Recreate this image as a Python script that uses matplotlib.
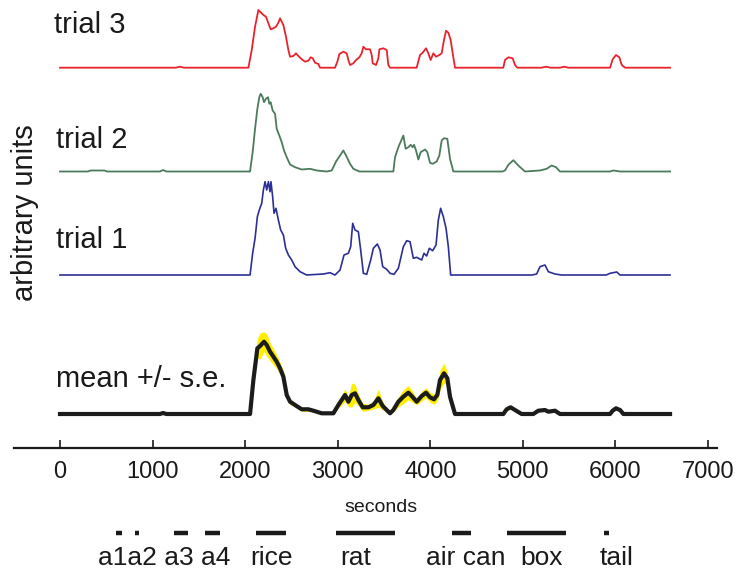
import matplotlib
matplotlib.use('Agg')
import matplotlib.pyplot as plt
from matplotlib.transforms import blended_transform_factory
from matplotlib import font_manager
import numpy as np

plt.rcParams['font.family'] = ['Liberation Sans', 'DejaVu Sans']

# ---------------- data (seconds, arbitrary units) ----------------
xticks = [0, 1000, 2000, 3000, 4000, 5000, 6000, 7000]
xtick_labels = ['0', '1000', '2000', '3000', '4000', '5000', '6000', '7000']

trial3 = [(0, 0), (1250, 0), (1296, 1), (1340, 0), (2035, 0), (2071, 17.7), (2107, 41), (2143, 57.7),
          (2161, 56), (2197, 52.7), (2225, 51), (2251, 44.4), (2276, 38.4), (2305, 39.4), (2333, 41),
          (2359, 45), (2377, 49.4), (2395, 46), (2413, 42.7), (2441, 31), (2467, 17.7), (2485, 11),
          (2521, 11.7), (2549, 14.4), (2575, 11.7), (2611, 8.4), (2647, 6), (2683, 7), (2708, 10.4),
          (2730, 9.4), (2755, 5), (2791, 3.7), (2809, 0), (2971, 0), (2996, 6), (3018, 13.7), (3061, 16),
          (3097, 14.4), (3115, 7.7), (3133, 2.7), (3169, 4.4), (3198, 7.7), (3234, 10.4), (3259, 14.4),
          (3277, 21), (3306, 18.4), (3349, 18.4), (3367, 12.7), (3378, 4.4), (3414, 2.7), (3439, 9.4),
          (3450, 18.4), (3493, 19.4), (3529, 17.7), (3547, 2.7), (3565, 0), (3853, 0), (3889, 12.7),
          (3918, 15), (3954, 19.4), (3979, 14.4), (4004, 7.7), (4033, 14.4), (4062, 11), (4098, 12.7),
          (4123, 14.4), (4148, 27.7), (4170, 37), (4195, 35), (4220, 27.7), (4242, 14.4), (4267, 0),
          (4789, 0), (4807, 7.7), (4843, 10.4), (4890, 9.4), (4915, 2.7), (4940, 0), (5200, 0),
          (5250, 1), (5300, 0), (5400, 0), (5450, 1), (5490, 0), (5942, 0), (5970, 8.4), (6006, 12.7),
          (6042, 10.4), (6068, 2.7), (6104, 0), (6590, 0)]

trial2 = [(0, 0), (300, 0), (330, 1), (480, 1), (510, 0), (1080, 0), (1113, 1.5), (1150, 0), (2053, 0),
          (2081, 19.3), (2107, 42.7), (2132, 62.7), (2153, 74.3), (2168, 77.7), (2189, 74.3), (2204, 69.3),
          (2225, 72.7), (2247, 74.3), (2261, 67.7), (2276, 69.3), (2297, 61), (2323, 57.7), (2341, 42.7),
          (2369, 36), (2395, 29.3), (2420, 21), (2449, 14.3), (2485, 7), (2539, 4.3), (2611, 2),
          (2701, 2.7), (2773, 1), (2881, 0), (2935, 1), (2982, 10), (3025, 16), (3061, 21), (3090, 16),
          (3133, 7.7), (3169, 2.7), (3234, 0), (3601, 0), (3619, 14.3), (3655, 24.3), (3709, 36),
          (3734, 22.7), (3763, 24.3), (3788, 26.7), (3810, 24.3), (3824, 26.7), (3846, 21), (3871, 12),
          (3896, 19.3), (3943, 22), (3968, 19.3), (3997, 8.7), (4026, 7.7), (4069, 10), (4098, 16),
          (4123, 31), (4148, 33.3), (4184, 32.7), (4213, 12.7), (4249, 0), (4780, 0), (4807, 1),
          (4843, 6.7), (4897, 11.3), (4951, 6), (5023, 0), (5185, 1), (5257, 2.7), (5311, 6),
          (5358, 4.3), (5401, 0), (5940, 0), (5978, 1), (6050, 0), (6590, 0)]

trial1 = [(0, 0), (2053, 0), (2081, 21.7), (2107, 36.7), (2132, 58.3), (2153, 65), (2179, 71.7),
          (2197, 85), (2215, 93.3), (2233, 85), (2251, 93.3), (2269, 83.3), (2279, 93.3), (2297, 78.3),
          (2312, 61.7), (2333, 66.7), (2359, 55), (2384, 45), (2413, 40), (2438, 26.7), (2467, 20),
          (2503, 15), (2539, 8.3), (2593, 3.3), (2665, 0), (2845, 1), (2917, 2.3), (2971, 0), (3025, 5),
          (3068, 20), (3115, 21.7), (3140, 28.3), (3162, 51.7), (3187, 45), (3223, 43.3), (3248, 25),
          (3277, 1.7), (3313, 0.7), (3356, 15), (3385, 26.7), (3428, 31), (3457, 25), (3486, 8.3),
          (3529, 5.7), (3565, 1.7), (3608, 0.7), (3655, 6.7), (3709, 28.3), (3745, 34.3), (3781, 33.3),
          (3817, 16.7), (3853, 17.7), (3907, 15), (3932, 21.7), (3961, 19), (3990, 26.7), (4026, 24.3),
          (4062, 30), (4087, 55), (4112, 66.7), (4141, 58.3), (4170, 46.7), (4195, 28.3), (4220, 0),
          (5100, 0), (5149, 1), (5185, 8.3), (5239, 10), (5275, 3.3), (5347, 1), (5419, 0), (5900, 0),
          (5942, 1.7), (6014, 3), (6050, 0), (6590, 0)]

# (time, mean, standard error)
mean_se = [(0, 0, 0.5), (1080, 0, 0.5), (1113, 1, 0.5), (1150, 0, 0.5), (2053, 0, 0.5), (2089, 34, 7),
           (2132, 65.7, 10), (2161, 68, 13), (2204, 72.3, 10), (2233, 69, 11), (2269, 62.3, 9),
           (2305, 57.3, 8), (2341, 52.3, 7), (2377, 45.7, 6), (2413, 37.3, 6), (2449, 19, 4),
           (2485, 12.3, 3), (2539, 9, 2), (2611, 4.7, 2), (2683, 4.7, 2), (2737, 3.3, 1.5),
           (2827, 0.7, 1), (2953, 0.7, 1), (3007, 9, 3), (3043, 14, 5), (3079, 19, 6), (3115, 12.3, 5),
           (3151, 19, 12), (3187, 20.7, 9), (3223, 14, 6), (3270, 6.7, 4), (3331, 6.7, 3), (3385, 9, 4),
           (3439, 15.7, 9), (3486, 8, 4), (3529, 4, 2), (3565, 0.7, 1), (3601, 4, 2), (3655, 12.3, 5),
           (3709, 17.3, 7), (3763, 21.3, 7), (3799, 18, 6), (3853, 12.3, 3), (3907, 18, 5),
           (3954, 21.3, 5), (3997, 16.7, 5), (4040, 14.7, 5), (4076, 19, 6), (4105, 34, 10),
           (4148, 40.7, 10), (4184, 35.7, 6), (4213, 17.3, 4), (4267, 0, 0.5), (4789, 0, 0.5),
           (4825, 4.7, 1.5), (4868, 6.7, 1.5), (4915, 4, 1.5), (4987, 0, 0.5), (5113, 0, 0.5),
           (5167, 3.3, 1), (5239, 4, 1), (5275, 2.3, 1), (5347, 3.3, 1), (5401, 0, 0.5), (5942, 0, 0.5),
           (5970, 3.3, 1.5), (6006, 5.7, 1.5), (6050, 4, 1.5), (6086, 0, 0.5), (6590, 0, 0.5)]

# stimulus events (start s, end s)
events = [(610, 665), (810, 857), (1235, 1386), (1566, 1728), (2117, 2441),
          (2981, 3619), (4231, 4436), (4825, 5463), (5880, 5934)]
event_labels = ['rice', 'rat', 'air can', 'box', 'tail']

# ---------------- figure ----------------
W, H = 736, 576
fig = plt.figure(figsize=(W / 100, H / 100), dpi=100)
ax = fig.add_axes([14 / W, 1 - 448 / H, (716.7 - 14) / W, 448 / H])
ax.set_xlim(-497, 7094)
ax.set_ylim(0, 448)
for s in ['top', 'right', 'left']:
    ax.spines[s].set_visible(False)
ax.spines['bottom'].set_linewidth(1.6)
ax.spines['bottom'].set_color('#1a1a1a')
ax.set_yticks([])
ax.set_xticks(xticks)
ax.set_xticklabels(xtick_labels)

available = {f.name for f in font_manager.fontManager.ttflist}
narrow = None
for cand in ['Liberation Sans Narrow', 'DejaVu Sans Condensed']:
    if cand in available:
        narrow = cand
        break
if narrow is not None:
    tick_family, tick_size = [narrow, 'Liberation Sans'], 20
else:
    tick_family, tick_size = ['Liberation Sans'], 17

ax.tick_params(axis='x', direction='in', length=6, width=1.2, pad=9, labelsize=tick_size,
               colors='#1a1a1a')
for lab in ax.get_xticklabels():
    lab.set_fontfamily(tick_family)

base3, base2, base1, base_m = 380.3, 276.5, 173.0, 34.0

t3 = np.array([p[0] for p in trial3]); v3 = np.array([p[1] for p in trial3])
t2 = np.array([p[0] for p in trial2]); v2 = np.array([p[1] for p in trial2])
t1 = np.array([p[0] for p in trial1]); v1 = np.array([p[1] for p in trial1])
tm = np.array([p[0] for p in mean_se]); vm = np.array([p[1] for p in mean_se])
sm = np.array([p[2] for p in mean_se])

ax.plot(t3, v3 + base3, color='#e8232b', lw=1.3)
ax.plot(t2, v2 + base2, color='#4b7b5c', lw=1.3)
ax.plot(t1, v1 + base1, color='#2c2f98', lw=1.2)
ax.fill_between(tm, vm - sm + base_m, vm + sm + base_m, color='#ffee00', lw=0)
ax.plot(tm, vm + base_m, color='#1c1c1c', lw=3.0, solid_joinstyle='round')

tc = '#1a1a1a'
fig.text(54 / W, 1 - 33 / H, 'trial 3', fontsize=21, color=tc, va='baseline', ha='left')
fig.text(56 / W, 1 - 148 / H, 'trial 2', fontsize=21, color=tc, va='baseline', ha='left')
fig.text(56 / W, 1 - 247.7 / H, 'trial 1', fontsize=21, color=tc, va='baseline', ha='left')
fig.text(56 / W, 1 - 387 / H, 'mean +/- s.e.', fontsize=21, color=tc, va='baseline', ha='left')
fig.text(25 / W, 1 - 213 / H, 'arbitrary units', fontsize=21, color=tc, rotation=90,
         ha='center', va='center')
fig.text(381 / W, 1 - 507 / H, 'seconds', fontsize=14, color=tc, ha='center', va='center')

# event bars
tr = blended_transform_factory(ax.transData, fig.transFigure)
for (a, b) in events:
    ax.plot([a, b], [1 - 533 / H, 1 - 533 / H], color='#1a1a1a', lw=3.2,
            solid_capstyle='butt', transform=tr, clip_on=False)

fig.text(98 / W, 1 - 558 / H, 'a1a2 a3 a4', fontsize=19, color=tc, ha='left', va='center')
label_x = [271, 356, 466, 542, 617]
for lbl, x in zip(event_labels, label_x):
    fig.text(x / W, 1 - 558 / H, lbl, fontsize=19, color=tc, ha='center', va='center')

fig.savefig('out.png', dpi=100)
